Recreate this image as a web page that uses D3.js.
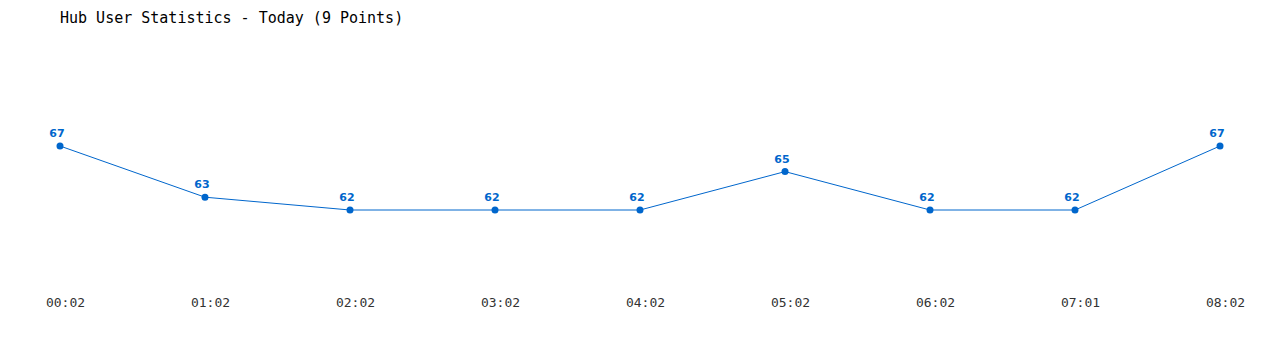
<!DOCTYPE html>
<html>
<head>
<meta charset="utf-8">
<script src="https://cdn.jsdelivr.net/npm/d3@7"></script>
<style>
	body { margin: 0; background: #fff; }
</style>
</head>
<body>
<div id="chart"></div>
<script>
// chart data
const times = ["00:02", "01:02", "02:02", "03:02", "04:02", "05:02", "06:02", "07:01", "08:02"];
const users = [67, 63, 62, 62, 62, 65, 62, 62, 67];
const title = "Hub User Statistics - Today (9 Points)";

const width = 1280;
const height = 350;
const blue = "#0066cc";

const svg = d3.select("#chart").append("svg")
	.attr("width", width)
	.attr("height", height);

// title
svg.append("text")
	.text(title)
	.attr("x", 60)
	.attr("y", 23)
	.attr("font-family", "DejaVu Sans Mono, monospace")
	.attr("font-size", "15px")
	.attr("fill", "#000");

const x = d3.scalePoint()
	.domain(times)
	.range([60, 1220]);

const y = d3.scaleLinear()
	.domain([57, 72])
	.range([274, 82]);

// x axis labels, no line or ticks
const xAxis = d3.axisBottom(x).tickSize(0).tickPadding(0);
const gx = svg.append("g")
	.attr("transform", "translate(5, 298)")
	.call(xAxis);
gx.select(".domain").remove();
gx.selectAll("text")
	.attr("font-family", "DejaVu Sans Mono, monospace")
	.attr("font-size", "13px")
	.attr("fill", "#333")
	.attr("dy", "0.71em");

const data = times.map((t, i) => [t, users[i]]);

svg.append("path")
	.datum(data)
	.attr("fill", "none")
	.attr("stroke", blue)
	.attr("stroke-width", 1)
	.attr("d", d3.line().x(d => x(d[0])).y(d => y(d[1])));

svg.selectAll("circle")
	.data(data)
	.join("circle")
	.attr("cx", d => x(d[0]))
	.attr("cy", d => y(d[1]))
	.attr("r", 3.5)
	.attr("fill", blue);

svg.selectAll(".val")
	.data(data)
	.join("text")
	.attr("class", "val")
	.text(d => d[1])
	.attr("x", d => x(d[0]) - 3)
	.attr("y", d => y(d[1]) - 9)
	.attr("text-anchor", "middle")
	.attr("font-family", "DejaVu Sans, sans-serif")
	.attr("font-weight", "bold")
	.attr("font-size", "11px")
	.attr("fill", blue);
</script>
</body>
</html>
